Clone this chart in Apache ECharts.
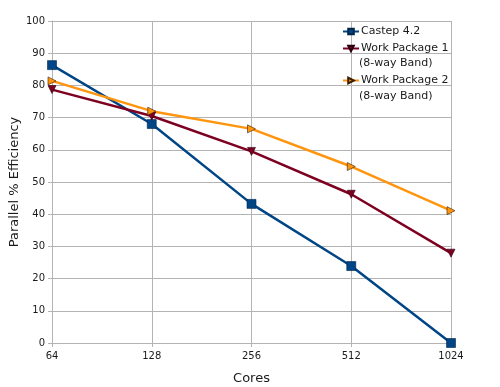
<!DOCTYPE html>
<html><head><meta charset="utf-8">
<script src="https://cdn.jsdelivr.net/npm/echarts@6/dist/echarts.min.js"></script>
<style>html,body{margin:0;padding:0;background:#fff}#c{width:500px;height:387px}</style>
</head><body><div id="c"></div>
<script>
var categories = ['64', '128', '256', '512', '1024'];
var castep = [86.3, 68.0, 43.2, 23.9, 0];
var wp1 = [78.7, 70.5, 59.5, 46.2, 27.9];
var wp2 = [81.4, 72.0, 66.5, 54.8, 41.1];
var yTicks = [0, 10, 20, 30, 40, 50, 60, 70, 80, 90, 100];

var FONT = 'DejaVu Sans';
var chart = echarts.init(document.getElementById('c'), null, {renderer: 'canvas'});
function legendItem(name, top) {
  return {
    data: [name], left: 342, top: top, orient: 'vertical', padding: 0,
    itemWidth: 16, itemHeight: 7, itemGap: 0, selectedMode: false,
    textStyle: {fontFamily: FONT, fontSize: 11, color: '#1a1a1a', padding: [0, 0, 0, -3]}
  };
}
chart.setOption({
  animation: false,
  textStyle: {fontFamily: FONT},
  grid: {left: 52, right: 49, top: 21, bottom: 44, containLabel: false, outerBoundsMode: 'none'},
  legend: [legendItem('Castep 4.2', 26), legendItem('Work Package 1', 43), legendItem('Work Package 2', 75)],
  graphic: [
    {type: 'text', left: 359, top: 58, style: {text: '(8-way Band)', font: '11px "DejaVu Sans"', fill: '#1a1a1a'}},
    {type: 'text', left: 359, top: 91, style: {text: '(8-way Band)', font: '11px "DejaVu Sans"', fill: '#1a1a1a'}}
  ],
  xAxis: {
    type: 'category', data: categories, boundaryGap: false,
    name: 'Cores', nameLocation: 'middle', nameGap: 29, nameMoveOverlap: false,
    nameTextStyle: {fontFamily: FONT, fontSize: 13, color: '#1a1a1a'},
    axisLine: {lineStyle: {color: '#b3b3b3', width: 1}},
    axisTick: {show: true, length: 4, lineStyle: {color: '#b3b3b3'}},
    axisLabel: {fontFamily: FONT, fontSize: 10, color: '#1a1a1a', margin: 8},
    splitLine: {show: true, lineStyle: {color: '#b3b3b3', width: 1}}
  },
  yAxis: {
    type: 'value', min: 0, max: 100, interval: 10,
    name: 'Parallel % Efficiency', nameLocation: 'middle', nameGap: 31, nameMoveOverlap: false,
    nameTextStyle: {fontFamily: FONT, fontSize: 13, color: '#1a1a1a'},
    axisLine: {show: true, lineStyle: {color: '#b3b3b3', width: 1}},
    axisTick: {show: true, length: 4, lineStyle: {color: '#b3b3b3'}},
    axisLabel: {fontFamily: FONT, fontSize: 10, color: '#1a1a1a', margin: 7,
      formatter: function (v) { return yTicks.indexOf(v) >= 0 ? String(v) : ''; }},
    splitLine: {show: true, lineStyle: {color: '#b3b3b3', width: 1}}
  },
  series: [
    {name: 'Castep 4.2', type: 'line', data: castep, symbol: 'rect', symbolSize: 9,
     color: '#004586', lineStyle: {width: 2.5}, itemStyle: {borderColor: '#00264a', borderWidth: 0.6}},
    {name: 'Work Package 1', type: 'line', data: wp1, symbol: 'triangle', symbolRotate: 180, symbolSize: 8,
     color: '#7e0021', lineStyle: {width: 2.5}, itemStyle: {borderColor: '#2a0010', borderWidth: 0.6}},
    {name: 'Work Package 2', type: 'line', data: wp2, symbol: 'triangle', symbolRotate: -90, symbolSize: 8,
     color: '#ff950e', lineStyle: {width: 2.5}, itemStyle: {borderColor: '#3a2000', borderWidth: 0.6}}
  ]
});
</script></body></html>
